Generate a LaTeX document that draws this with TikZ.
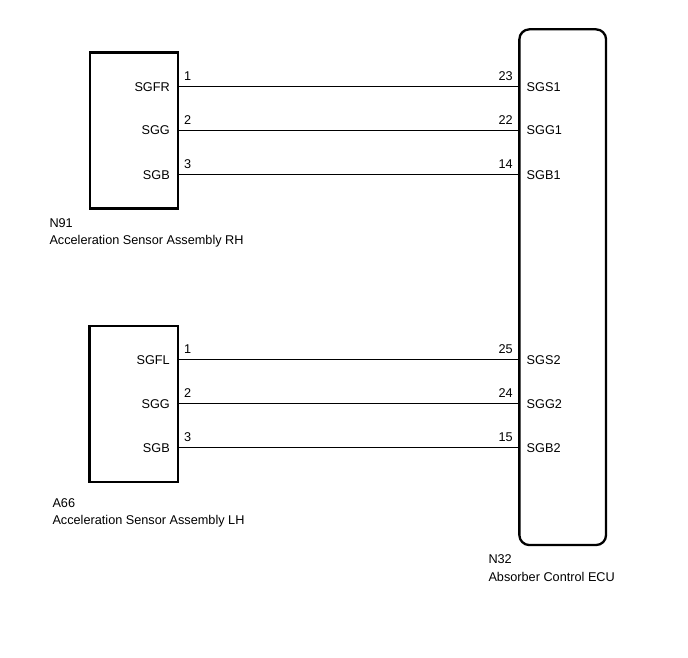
\documentclass[tikz,border=0pt]{standalone}
\usepackage{fontspec}
\setmainfont{Liberation Sans}
\begin{document}
\begin{tikzpicture}[x=1pt,y=-1pt,
  box/.style={draw, line width=2.2pt, inner sep=0pt, minimum width=88.3pt, minimum height=155.8pt},
  ecubox/.style={draw, line width=2.3pt, rounded corners=10pt, inner sep=0pt, minimum width=86.7pt, minimum height=515.7pt},
  wire/.style={line width=1.5pt},
  txt/.style={font=\fontsize{12.7}{15}\selectfont, inner sep=0pt},
  pinl/.style={txt, anchor=east},
  pinr/.style={txt, anchor=west},
  numl/.style={txt, anchor=south west},
  numr/.style={txt, anchor=south east},
  captxt/.style={txt, anchor=west}]
\useasboundingbox (0,0) rectangle (688,658);
% boxes
\node[box] (rh) at (133.8,130.5) {};
\node[box] (lh) at (133.6,403.7) {};
\node[ecubox] (ecu) at (562.7,287.2) {};
% left RH pins
\node[pinl] (sgfr) at (170,86.7) {SGFR};
\node[pinl] (sggr) at (170,130.5) {SGG};
\node[pinl] (sgbr) at (170,174.7) {SGB};
% left LH pins
\node[pinl] (sgfl) at (170,359.7) {SGFL};
\node[pinl] (sggl) at (170,403.7) {SGG};
\node[pinl] (sgbl) at (170,447.7) {SGB};
% ECU pins
\node[pinr] (sgs1) at (526.5,86.7) {SGS1};
\node[pinr] (sgg1) at (526.5,130.5) {SGG1};
\node[pinr] (sgb1) at (526.5,174.7) {SGB1};
\node[pinr] (sgs2) at (526.5,359.7) {SGS2};
\node[pinr] (sgg2) at (526.5,403.7) {SGG2};
\node[pinr] (sgb2) at (526.5,447.7) {SGB2};
% wires
\draw[wire] (rh.east |- sgfr) -- (ecu.west |- sgs1);
\draw[wire] (rh.east |- sggr) -- (ecu.west |- sgg1);
\draw[wire] (rh.east |- sgbr) -- (ecu.west |- sgb1);
\draw[wire] (lh.east |- sgfl) -- (ecu.west |- sgs2);
\draw[wire] (lh.east |- sggl) -- (ecu.west |- sgg2);
\draw[wire] (lh.east |- sgbl) -- (ecu.west |- sgb2);
% pin numbers
\node[numl] (n1r) at (184,81) {1};
\node[numl] (n2r) at (184,125) {2};
\node[numl] (n3r) at (184,169) {3};
\node[numl] (n1l) at (184,354) {1};
\node[numl] (n2l) at (184,398) {2};
\node[numl] (n3l) at (184,442) {3};
\node[numr] (n23) at (513,81) {23};
\node[numr] (n22) at (513,125) {22};
\node[numr] (n14) at (513,169) {14};
\node[numr] (n25) at (513,354) {25};
\node[numr] (n24) at (513,398) {24};
\node[numr] (n15) at (513,442) {15};
% captions
\node[captxt] (c1) at (49.3,222.7) {N91};
\node[captxt] (c2) at (49.3,241) {Acceleration Sensor Assembly RH};
\node[captxt] (c3) at (52.3,503.3) {A66};
\node[captxt] (c4) at (52.3,521.7) {Acceleration Sensor Assembly LH};
\node[captxt] (c5) at (488.3,559.3) {N32};
\node[captxt] (c6) at (488.3,576.5) {Absorber Control ECU};
\end{tikzpicture}
\end{document}
